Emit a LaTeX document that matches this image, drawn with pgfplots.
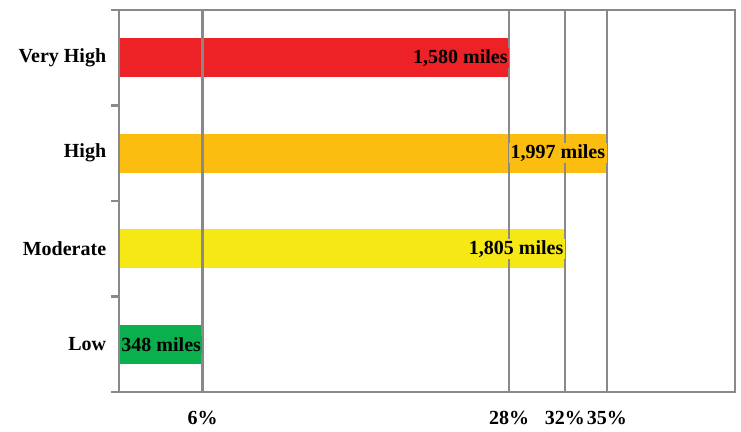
\documentclass[border=0pt]{standalone}
\usepackage{fontspec}
\setmainfont{Liberation Serif}
\usepackage{pgfplots}
\pgfplotsset{compat=1.18}

\definecolor{cRed}{HTML}{ED2227}
\definecolor{cOrange}{HTML}{FBBE10}
\definecolor{cYellow}{HTML}{F5E815}
\definecolor{cGreen}{HTML}{0BB04E}
\definecolor{cGrid}{HTML}{898989}

\begin{document}
\fontsize{20}{24}\selectfont\bfseries
\begin{tikzpicture}
\begin{axis}[
    set layers,
    scale only axis,
    width=616pt, height=382pt,
    xmin=0, xmax=44.2,
    ymin=-0.5, ymax=3.5,
    y dir=reverse,
    xtick={6,28,32,35},
    xticklabels={6\%,28\%,32\%,35\%},
    ytick={0,1,2,3},
    yticklabels={Very High,High,Moderate,Low},
    minor ytick={-0.5,0.5,1.5,2.5,3.5},
    ytick pos=left,
    major tick length=0pt,
    minor tick length=8pt,
    tick align=outside,
    tick style={cGrid, line width=2.5pt},
    xmajorgrids,
    grid style={cGrid, line width=2.5pt},
    axis line style={cGrid, line width=2.5pt},
    ticklabel style={font=\fontsize{20}{24}\selectfont\bfseries},
    yticklabel style={xshift=-6pt},
    xticklabel style={yshift=-12pt},
    /pgf/number format/assume math mode=true,
    bar width=0.41,
    point meta=explicit symbolic,
    every node near coord/.append style={anchor=east, inner sep=1.5pt, black,
        font=\fontsize{20}{24}\selectfont\bfseries},
]
\addplot[on layer=axis background, xbar, bar shift=0pt, fill=cRed, draw=none] coordinates {(28,0) [a]};
\addplot[on layer=axis background, xbar, bar shift=0pt, fill=cOrange, draw=none] coordinates {(35,1) [a]};
\addplot[on layer=axis background, xbar, bar shift=0pt, fill=cYellow, draw=none] coordinates {(32,2) [a]};
\addplot[on layer=axis background, xbar, bar shift=0pt, fill=cGreen, draw=none] coordinates {(6,3) [a]};

\addplot[xbar, bar shift=0pt, draw=none, fill=none,
    nodes near coords, every node near coord/.append style={fill=cRed}]
    coordinates {(28,0) [1,580 miles]};
\addplot[xbar, bar shift=0pt, draw=none, fill=none,
    nodes near coords, every node near coord/.append style={fill=cOrange}]
    coordinates {(35,1) [1,997 miles]};
\addplot[xbar, bar shift=0pt, draw=none, fill=none,
    nodes near coords, every node near coord/.append style={fill=cYellow}]
    coordinates {(32,2) [1,805 miles]};
\addplot[xbar, bar shift=0pt, draw=none, fill=none,
    nodes near coords, every node near coord/.append style={fill=cGreen}]
    coordinates {(6,3) [348 miles]};
\end{axis}
\path[use as bounding box] (current axis.south west) ++(-119pt,-34pt)
    rectangle ([xshift=6pt,yshift=10pt]current axis.north east);
\end{tikzpicture}
\end{document}
